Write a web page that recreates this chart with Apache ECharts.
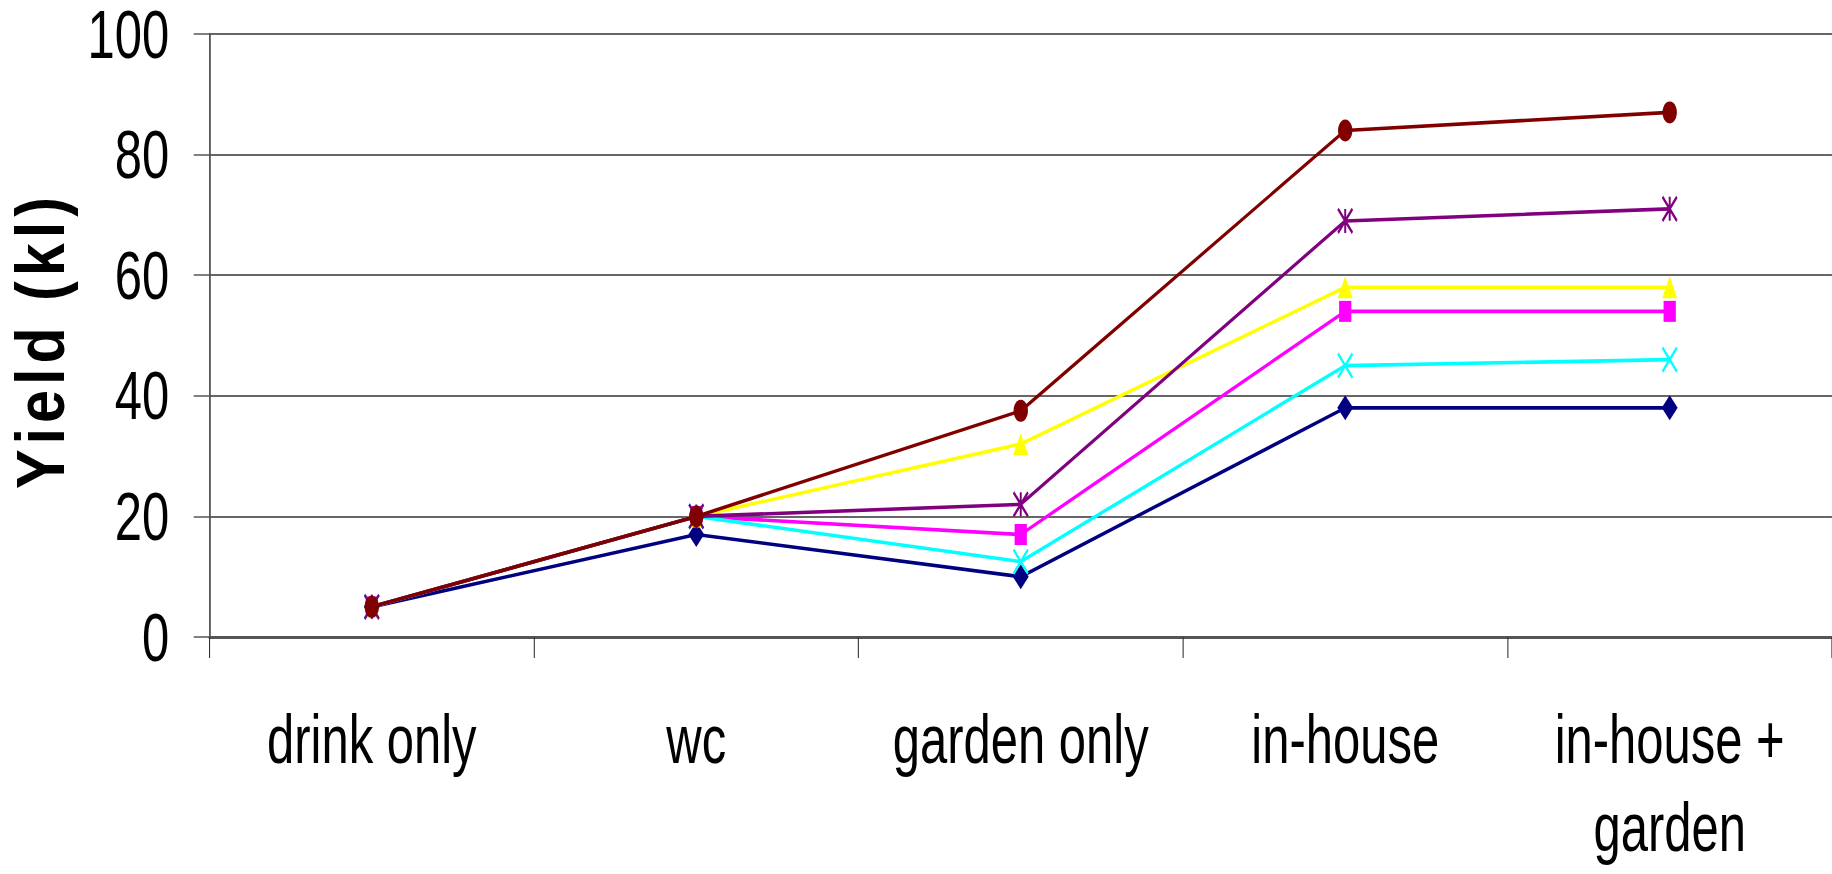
<!DOCTYPE html>
<html>
<head>
<meta charset="utf-8">
<title>Yield (kl)</title>
<script src="https://cdn.jsdelivr.net/npm/echarts@6/dist/echarts.min.js"></script>
<style>
  html, body { margin: 0; padding: 0; background: #ffffff; overflow: hidden; }
  #frame { width: 1832px; height: 874px; overflow: hidden; position: relative; }
  /* The chart is laid out on a wider stage and condensed horizontally,
     which gives the narrow lettering and tall markers of the figure. */
  #chart { width: 2544px; height: 874px; transform-origin: 0 0; transform: scaleX(0.7201); }
</style>
</head>
<body>
<div id="frame"><div id="chart"></div></div>
<script>
// Usage scenarios along the x axis
const categories = ['drink only', 'wc', 'garden only', 'in-house', 'in-house +\ngarden'];

// Yield (kl) for each series, one value per scenario
const seriesNavy    = [5, 17, 10, 38, 38];
const seriesMagenta = [5, 20, 17, 54, 54];
const seriesYellow  = [5, 20, 32, 58, 58];
const seriesCyan    = [5, 20, 12.5, 45, 46];
const seriesPurple  = [5, 20, 22, 69, 71];
const seriesMaroon  = [5, 20, 37.5, 84, 87];

// Y axis scale
const yMin = 0;
const yMax = 100;
const yStep = 20;
const yTitle = 'Yield (kl)';

const FONT = '"Liberation Sans", Arial, Helvetica, sans-serif';

const CROSS = 'path://M0,0 L10,10 M10,0 L0,10';
const STAR = 'path://M0,0 L10,10 M10,0 L0,10 M5,0 L5,10';

// Spread the title's letters a little (hair spaces between characters)
const spacedTitle = Array.from(yTitle).join('\u200A');

function lineSeries(name, data, color, symbol, size, stroked) {
  return {
    name: name,
    type: 'line',
    data: data,
    symbol: symbol,
    symbolSize: size,
    showAllSymbol: true,
    lineStyle: { color: color, width: 3.6 },
    itemStyle: stroked
      ? { color: 'rgba(0,0,0,0)', borderColor: color, borderWidth: 3 }
      : { color: color, borderWidth: 0 },
    emphasis: { disabled: true },
    animation: false,
    z: 3
  };
}

const chart = echarts.init(document.getElementById('chart'), null, { renderer: 'svg' });

chart.setOption({
  backgroundColor: '#ffffff',
  animation: false,
  grid: { left: 291, right: 0, top: 29, bottom: 237, containLabel: false },
  graphic: [{
    type: 'text',
    x: 56,
    y: 343,
    rotation: Math.PI / 2,
    scaleX: 0.625,
    silent: true,
    style: {
      text: spacedTitle,
      fontFamily: FONT,
      fontWeight: 'bold',
      fontSize: 95,
      lineHeight: 78,
      fill: '#000000',
      align: 'center',
      verticalAlign: 'middle'
    }
  }],
  xAxis: {
    type: 'category',
    data: categories,
    boundaryGap: true,
    axisLine: { show: true, lineStyle: { color: '#555555', width: 3 } },
    axisTick: { show: true, alignWithLabel: false, length: 21, lineStyle: { color: '#333333', width: 1.5 } },
    axisLabel: {
      interval: 0,
      margin: 58,
      color: '#000000',
      fontFamily: FONT,
      fontSize: 68,
      lineHeight: 88
    },
    splitLine: { show: false }
  },
  yAxis: {
    type: 'value',
    min: yMin,
    max: yMax,
    interval: yStep,
    axisLine: { show: true, lineStyle: { color: '#555555', width: 2.5 } },
    axisTick: { show: true, length: 22, lineStyle: { color: '#555555', width: 1.5 } },
    axisLabel: {
      margin: 56,
      color: '#000000',
      fontFamily: FONT,
      fontSize: 68,
      lineHeight: 56
    },
    splitLine: { show: true, lineStyle: { color: '#333333', width: 1.5 } }
  },
  series: [
    lineSeries('Series 1', seriesNavy,    '#000080', 'diamond',  [22, 25], false),
    lineSeries('Series 2', seriesMagenta, '#FF00FF', 'rect',     [17, 21], false),
    lineSeries('Series 3', seriesYellow,  '#FFFF00', 'triangle', [21, 22], false),
    lineSeries('Series 4', seriesCyan,    '#00FFFF', CROSS,      [20, 24], true),
    lineSeries('Series 5', seriesPurple,  '#800080', STAR,       [20, 24], true),
    lineSeries('Series 6', seriesMaroon,  '#800000', 'circle',   [20, 22], false)
  ]
});
</script>
</body>
</html>
